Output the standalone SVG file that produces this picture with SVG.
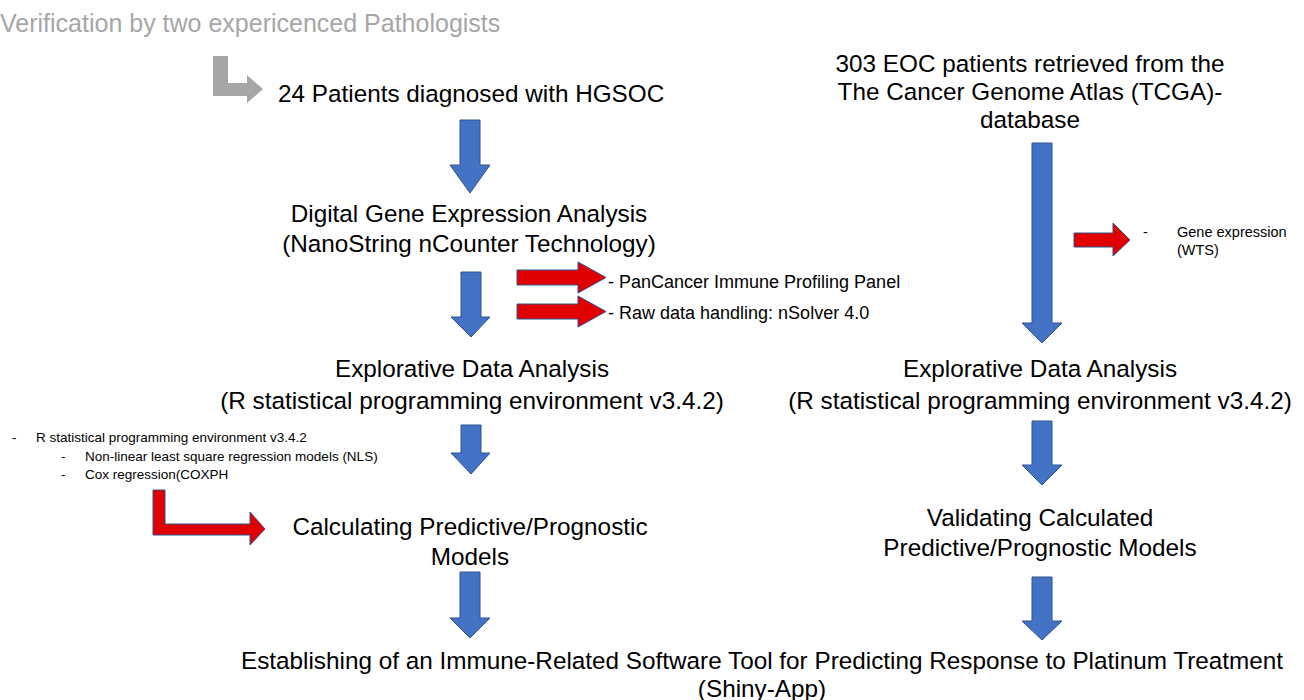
<svg xmlns="http://www.w3.org/2000/svg" width="1304" height="700" viewBox="0 0 1304 700">
<style>
text{font-family:"Liberation Sans",Arial,sans-serif;fill:#000}
.big{font-size:24.3px}
.mid{font-size:24.3px;text-anchor:middle}
.sm{font-size:18px}
.xs{font-size:13.5px}
.ws{font-size:14.5px}
.gray{fill:#a6a6a6;font-size:25px}
.blue{fill:#4472c4;stroke:#2f528f;stroke-width:1}
.red{fill:#e00000;stroke:#2f528f;stroke-width:1}
.grayarr{fill:#a6a6a6}
</style>
<rect width="1304" height="700" fill="#fff"/>
<g id="connectors">
<polygon class="grayarr" points="213,56 228,56 228,83 247,83 247,75 263,89 247,103 247,96 213,96"/>
<polygon class="blue" points="460,120 480,120 480,165 490,165 470,193 450,165 460,165"/>
<polygon class="blue" points="461,272 481,272 481,317 490,317 471,337 451,317 461,317"/>
<polygon class="blue" points="461,425 481,425 481,453 490,453 471,474 451,453 461,453"/>
<polygon class="blue" points="460,572 480,572 480,618 490,618 470,638 450,618 460,618"/>
<polygon class="blue" points="1032,143 1052,143 1052,323 1062,323 1042,343 1022,323 1032,323"/>
<polygon class="blue" points="1032,421 1052,421 1052,465 1062,465 1042,485 1022,465 1032,465"/>
<polygon class="blue" points="1032,577 1052,577 1052,621 1062,621 1042,640 1022,621 1032,621"/>
<polygon class="red" points="1074,233 1113,233 1113,223 1130,240 1113,256 1113,247 1074,247"/>
<polygon class="red" points="517,270 578,270 578,262 606,277.5 578,293 578,285 517,285"/>
<polygon class="red" points="517,304 578,304 578,296 606,311.5 578,327 578,319 517,319"/>
<polygon class="red" points="153,490 165,490 165,524 250,524 250,512 265,529 250,545 250,535 153,535"/>
</g>
<g id="verification"><text class="gray" x="0" y="32">Verification by two expericenced Pathologists</text></g>
<g id="patients24"><text class="big" x="278" y="102">24 Patients diagnosed with HGSOC</text></g>
<g id="tcga">
<text class="mid" x="1030" y="72">303 EOC patients retrieved from the</text>
<text class="mid" x="1030" y="100">The Cancer Genome Atlas (TCGA)-</text>
<text class="mid" x="1030" y="128">database</text>
</g>
<g id="dgea">
<text class="mid" x="469" y="222">Digital Gene Expression Analysis</text>
<text class="mid" x="469" y="252">(NanoString nCounter Technology)</text>
</g>
<g id="nanostring-notes">
<text class="sm" x="608" y="288">- PanCancer Immune Profiling Panel</text>
<text class="sm" x="608" y="319">- Raw data handling: nSolver 4.0</text>
</g>
<g id="wts-note">
<text class="ws" x="1143" y="237">-</text>
<text class="ws" x="1177" y="237">Gene expression</text>
<text class="ws" x="1177" y="255">(WTS)</text>
</g>
<g id="eda-left">
<text class="mid" x="472" y="377">Explorative Data Analysis</text>
<text class="mid" x="472" y="409">(R statistical programming environment v3.4.2)</text>
</g>
<g id="eda-right">
<text class="mid" x="1040" y="377">Explorative Data Analysis</text>
<text class="mid" x="1040" y="409">(R statistical programming environment v3.4.2)</text>
</g>
<g id="r-notes">
<text class="xs" x="12" y="442">-</text>
<text class="xs" x="36" y="442">R statistical programming environment v3.4.2</text>
<text class="xs" x="61" y="461">-</text>
<text class="xs" x="85" y="461">Non-linear least square regression models (NLS)</text>
<text class="xs" x="61" y="479">-</text>
<text class="xs" x="85" y="479">Cox regression(COXPH</text>
</g>
<g id="calc">
<text class="mid" x="470" y="535">Calculating Predictive/Prognostic</text>
<text class="mid" x="470" y="565">Models</text>
</g>
<g id="valid">
<text class="mid" x="1040" y="526">Validating Calculated</text>
<text class="mid" x="1040" y="556">Predictive/Prognostic Models</text>
</g>
<g id="shiny">
<text class="mid" x="762" y="669">Establishing of an Immune-Related Software Tool for Predicting Response to Platinum Treatment</text>
<text class="mid" x="762" y="697">(Shiny-App)</text>
</g>
</svg>
